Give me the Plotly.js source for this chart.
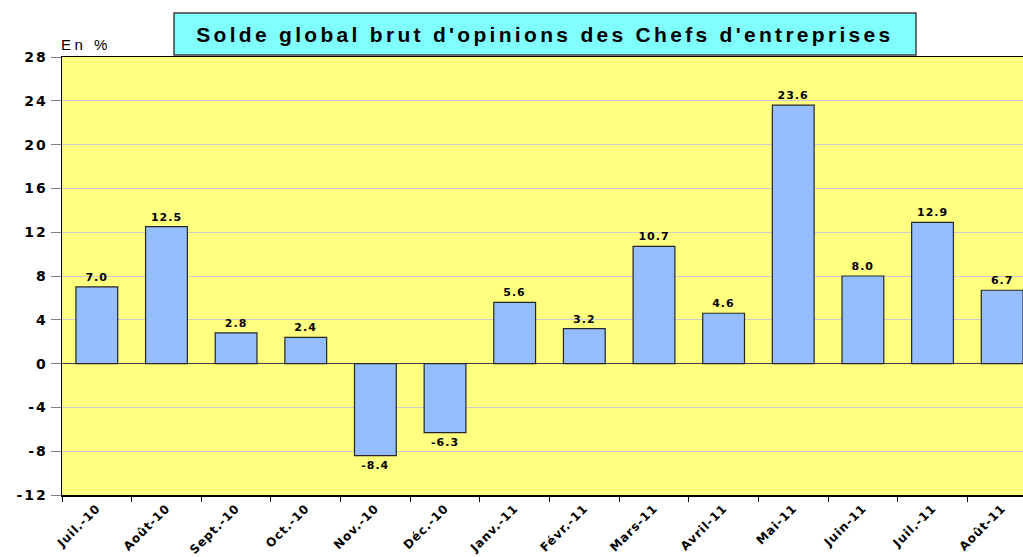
<!DOCTYPE html>
<html>
<head>
<meta charset="utf-8">
<script src="https://cdn.plot.ly/plotly-3.0.1.min.js"></script>
<style>
html,body{margin:0;padding:0;overflow:hidden;background:#fff;}
#chart{width:1037px;height:557px;}
#chart .xtick text{letter-spacing:0.9px;}
#chart .ytick text{letter-spacing:2px;}
#chart .bartext{letter-spacing:1px;}
#chart .annotation[data-index="0"] .annotation-text{letter-spacing:3.3px;}
#chart .annotation[data-index="1"] .annotation-text{letter-spacing:3.5px;}
</style>
</head>
<body>
<div id="chart"></div>
<script>
const categories = ["Juil.-10","Août-10","Sept.-10","Oct.-10","Nov.-10","Déc.-10","Janv.-11","Févr.-11","Mars-11","Avril-11","Mai-11","Juin-11","Juil.-11","Août-11"];
const values = [7.0, 12.5, 2.8, 2.4, -8.4, -6.3, 5.6, 3.2, 10.7, 4.6, 23.6, 8.0, 12.9, 6.7];
const yTicks = [-12,-8,-4,0,4,8,12,16,20,24,28];

const trace = {
  type: 'bar',
  x: categories,
  y: values,
  width: 0.6,
  marker: {color: '#96BEFF', line: {color: '#262626', width: 1.2}},
  text: values.map(v => v.toFixed(1)),
  textposition: 'outside',
  cliponaxis: false,
  textfont: {family: 'DejaVu Sans, sans-serif', size: 11, color: '#000', weight: 'bold'},
  hoverinfo: 'skip'
};

const layout = {
  width: 1037, height: 557,
  margin: {l: 62, r: 0, t: 57, b: 62},
  paper_bgcolor: '#ffffff',
  plot_bgcolor: '#FFFF80',
  showlegend: false,
  xaxis: {
    type: 'category',
    tickangle: -45,
    tickson: 'boundaries',
    ticks: 'outside', ticklen: 5, tickcolor: '#000', tickwidth: 1,
    showline: true, linecolor: '#000', linewidth: 1.5, mirror: true,
    showgrid: false,
    tickfont: {family: 'DejaVu Sans, sans-serif', size: 12, color: '#000', weight: 'bold'},
    automargin: false
  },
  yaxis: {
    range: [-12, 28],
    tickvals: yTicks,
    ticktext: yTicks.map(String),
    ticks: 'outside', ticklen: 10, tickcolor: '#808080', tickwidth: 1,
    showline: true, linecolor: '#000', linewidth: 1.5, mirror: true,
    showgrid: true, gridcolor: '#CCCCCC', gridwidth: 1,
    zeroline: true, zerolinecolor: '#404040', zerolinewidth: 1.2,
    tickfont: {family: 'DejaVu Sans, sans-serif', size: 14, color: '#000', weight: 'bold'},
    automargin: false
  },
  shapes: [{
    type: 'rect', xref: 'paper', yref: 'paper',
    x0: (174-62)/975, x1: (916-62)/975,
    y0: (495-55)/438, y1: (495-13)/438,
    fillcolor: '#80FFFF',
    line: {color: '#404040', width: 1.5},
    layer: 'above'
  }],
  annotations: [{
    xref: 'paper', yref: 'paper',
    x: ((174+916)/2-62)/975, y: (495-34)/438,
    xanchor: 'center', yanchor: 'middle',
    text: "Solde global brut d'opinions des Chefs d'entreprises",
    showarrow: false,
    font: {family: 'Liberation Sans, Arial, sans-serif', size: 21, color: '#000', weight: 'bold'}
  }, {
    xref: 'paper', yref: 'paper',
    x: 0.004, y: (495-45)/438,
    xanchor: 'left', yanchor: 'middle',
    text: 'En %',
    showarrow: false,
    font: {family: 'Liberation Sans, Arial, sans-serif', size: 15, color: '#000'}
  }]
};

Plotly.newPlot('chart', [trace], layout, {displayModeBar: false, staticPlot: true});
</script>
</body>
</html>
